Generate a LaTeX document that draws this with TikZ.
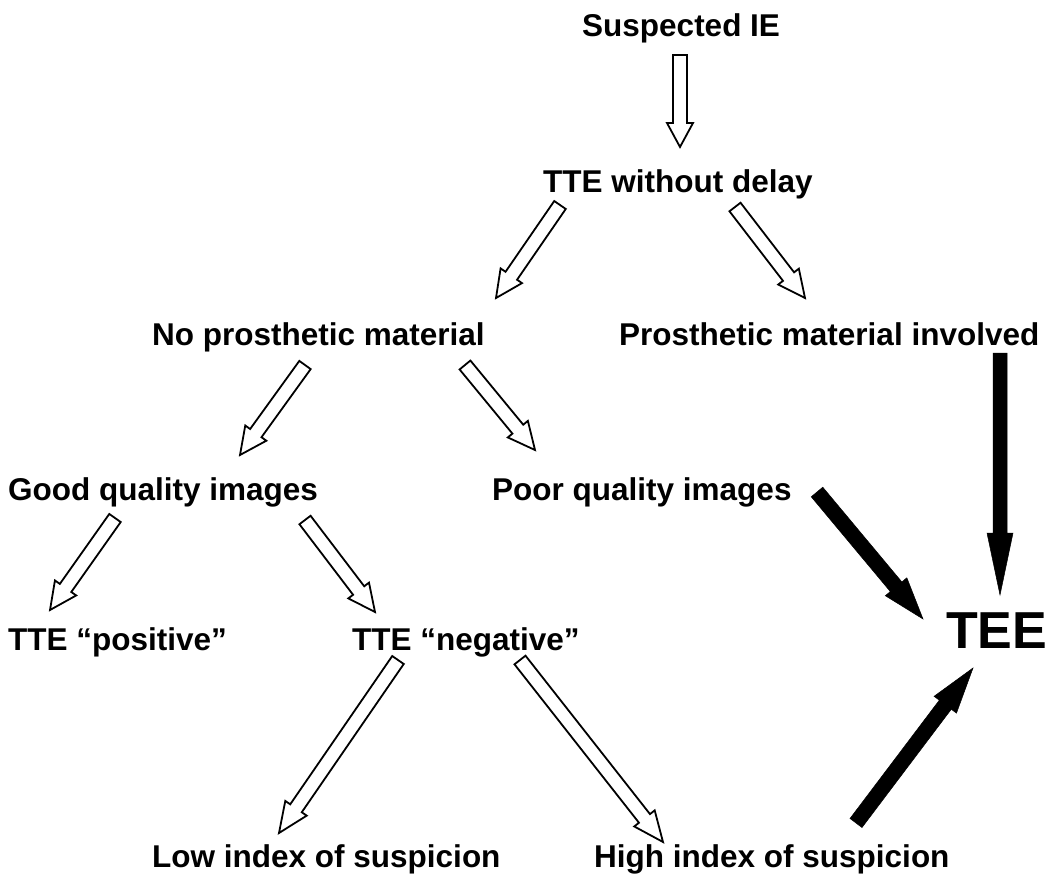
\documentclass[tikz,border=0pt]{standalone}
\usepackage{fontspec}
\setmainfont{Liberation Sans}
\usetikzlibrary{calc}
\newcommand{\blockarrow}[6]{%
  \coordinate (ba-h) at ($(#3)!#6!(#2)$);
  \draw[#1] ($(#2)!#4!90:(#3)$) -- ($(ba-h)!#4!90:(#3)$) -- ($(ba-h)!#5!90:(#3)$) -- (#3)
    -- ($(ba-h)!#5!-90:(#3)$) -- ($(ba-h)!#4!-90:(#3)$) -- ($(#2)!#4!-90:(#3)$) -- cycle;
}
\tikzset{
  lbl/.style={anchor=base west, inner sep=0pt, font=\bfseries\fontsize{31.5}{37}\selectfont},
  big/.style={anchor=base west, inner sep=0pt, font=\bfseries\fontsize{52}{60}\selectfont},
  hollow/.style={draw=black, fill=white, line width=1.8pt, line join=miter},
  solid/.style={draw=black, fill=black, line width=0.5pt, line join=miter}
}
\begin{document}
\begin{tikzpicture}[x=1pt, y=-1pt]
\useasboundingbox (0,0) rectangle (1050,875);
% texts
\node[lbl] (sie) at (582,37) {Suspected IE};
\node[lbl] (tte) at (543,192) {TTE without delay};
\node[lbl] (nop) at (152,345) {No prosthetic material};
\node[lbl] (pmi) at (619,345) {Prosthetic material involved};
\node[lbl] (gqi) at (8,500) {Good quality images};
\node[lbl] (pqi) at (492,500) {Poor quality images};
\node[lbl] (pos) at (8,650) {TTE “positive”};
\node[lbl] (neg) at (352,650) {TTE “negative”};
\node[big] (tee) at (946,648) {TEE};
\node[lbl] (low) at (152,867) {Low index of suspicion};
\node[lbl] (high) at (594,867) {High index of suspicion};
% arrow end points
\coordinate (a1s) at (680,55);  \coordinate (a1e) at (680,147);
\coordinate (a2s) at (560,205); \coordinate (a2e) at (496,298);
\coordinate (a3s) at (735,207); \coordinate (a3e) at (805,298);
\coordinate (a4s) at (305,365); \coordinate (a4e) at (240,455);
\coordinate (a5s) at (465,365); \coordinate (a5e) at (535,450);
\coordinate (a6s) at (115,518); \coordinate (a6e) at (50,610);
\coordinate (a7s) at (305,520); \coordinate (a7e) at (375,612);
\coordinate (a8s) at (398,660); \coordinate (a8e) at (279,833);
\coordinate (a9s) at (520,660); \coordinate (a9e) at (663,842);
\coordinate (b1s) at (817,492); \coordinate (b1e) at (923,619);
\coordinate (b2s) at (1000,353); \coordinate (b2e) at (1000,595);
\coordinate (b3s) at (856,823); \coordinate (b3e) at (973,668);
% hollow arrows
\blockarrow{hollow}{a1s}{a1e}{7pt}{13pt}{24pt}
\blockarrow{hollow}{a2s}{a2e}{7pt}{13pt}{27pt}
\blockarrow{hollow}{a3s}{a3e}{7pt}{13pt}{27pt}
\blockarrow{hollow}{a4s}{a4e}{7pt}{13pt}{27pt}
\blockarrow{hollow}{a5s}{a5e}{7pt}{13pt}{27pt}
\blockarrow{hollow}{a6s}{a6e}{7pt}{13pt}{27pt}
\blockarrow{hollow}{a7s}{a7e}{7pt}{13pt}{27pt}
\blockarrow{hollow}{a8s}{a8e}{7pt}{13pt}{30pt}
\blockarrow{hollow}{a9s}{a9e}{7pt}{13pt}{30pt}
% solid arrows
\blockarrow{solid}{b1s}{b1e}{7.5pt}{14pt}{42pt}
\blockarrow{solid}{b2s}{b2e}{7pt}{13pt}{62pt}
\blockarrow{solid}{b3s}{b3e}{7.5pt}{14pt}{46pt}
\end{tikzpicture}
\end{document}
